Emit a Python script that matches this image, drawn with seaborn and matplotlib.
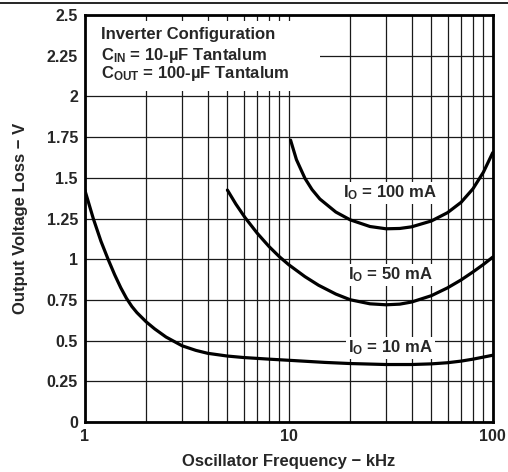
"""
Output voltage loss vs oscillator frequency, inverter configuration.
"""

import matplotlib
matplotlib.use('Agg')
import matplotlib.pyplot as plt
from matplotlib.lines import Line2D
from matplotlib.patches import Rectangle
from matplotlib.ticker import FixedLocator, NullFormatter
import pandas as pd
import seaborn as sns

# Curve values
freq_10 = [1, 1.1, 1.2, 1.3, 1.4, 1.5, 1.6, 1.7, 1.8, 2, 2.2, 2.5, 3, 3.5, 4, 5, 6, 8, 10,
           15, 20, 30, 40, 50, 60, 70, 80, 100]
loss_10 = [1.425, 1.25, 1.11, 1.0, 0.905, 0.825, 0.76, 0.71, 0.672, 0.615, 0.572, 0.522, 0.468, 0.44,
           0.422, 0.405, 0.396, 0.386, 0.379, 0.366, 0.359, 0.353, 0.353, 0.357, 0.364, 0.374, 0.386, 0.41]

freq_50 = [5, 5.5, 6.1, 7, 8, 9, 10, 12, 14, 17, 20, 25, 30, 35, 40, 50, 60, 70, 80, 90, 100]
loss_50 = [1.425, 1.339, 1.256, 1.16, 1.078, 1.015, 0.966, 0.893, 0.84, 0.786, 0.751, 0.726, 0.72,
           0.724, 0.737, 0.776, 0.824, 0.873, 0.922, 0.968, 1.013]

freq_100 = [10.2, 10.9, 12, 13, 14.2, 17, 20, 25, 30, 35, 40, 50, 60, 70, 80, 90, 100]
loss_100 = [1.732, 1.612, 1.497, 1.428, 1.37, 1.29, 1.242, 1.201, 1.187, 1.189, 1.199, 1.235, 1.286,
            1.35, 1.433, 1.535, 1.655]

curve_names = ['10 mA', '50 mA', '100 mA']
curve_labels = ['I$_O$ = 10 mA', 'I$_O$ = 50 mA', 'I$_O$ = 100 mA']
label_pos = [(31.5, 0.455), (31.3, 0.903), (31.3, 1.407)]

y_ticks = [0, 0.25, 0.5, 0.75, 1, 1.25, 1.5, 1.75, 2, 2.25, 2.5]
y_tick_labels = ['0', '0.25', '0.5', '0.75', '1', '1.25', '1.5', '1.75', '2', '2.25', '2.5']
x_ticks = [1, 10, 100]
x_tick_labels = ['1', '10', '100']
minor_ticks = [2, 3, 4, 5, 6, 7, 8, 9, 20, 30, 40, 50, 60, 70, 80, 90]

note_lines = ['Inverter Configuration', 'C$_{IN}$ = 10-µF Tantalum', 'C$_{OUT}$ = 100-µF Tantalum']
note_y = [2.353, 2.224, 2.113]

df = pd.concat([
    pd.DataFrame({'freq': freq_10, 'loss': loss_10, 'io': curve_names[0]}),
    pd.DataFrame({'freq': freq_50, 'loss': loss_50, 'io': curve_names[1]}),
    pd.DataFrame({'freq': freq_100, 'loss': loss_100, 'io': curve_names[2]}),
])

sns.set_style('white')
plt.rcParams['font.family'] = ['Liberation Sans', 'DejaVu Sans']
plt.rcParams['font.weight'] = 'bold'
plt.rcParams['mathtext.default'] = 'regular'

fig = plt.figure(figsize=(5.08, 4.72), dpi=100)
ax = fig.add_axes([0.167, 0.106, 0.803, 0.862])

sns.lineplot(data=df, x='freq', y='loss', units='io', estimator=None, sort=False,
             color='black', linewidth=2.3, ax=ax, zorder=5)

ax.set_xscale('log')
ax.set_xlim(1, 100)
ax.set_ylim(0, 2.5)

ax.xaxis.set_minor_locator(FixedLocator(minor_ticks))
ax.xaxis.set_minor_formatter(NullFormatter())
ax.set_xticks(x_ticks)
ax.set_xticklabels(x_tick_labels)
ax.set_yticks(y_ticks)
ax.set_yticklabels(y_tick_labels)
ax.grid(True, which='both', color='#1a1a1a', linewidth=0.9)
ax.tick_params(axis='x', which='both', length=0, labelsize=11.5, pad=5)
ax.tick_params(axis='y', which='both', direction='out', length=2.5, width=0.9,
               labelsize=11.5, pad=2.5)

for s in ax.spines.values():
    s.set_linewidth(2)
    s.set_color('black')
    s.set_zorder(10)

ax.set_xlabel('Oscillator Frequency − kHz', fontsize=12, fontweight='bold', labelpad=7)
ax.set_ylabel('Output Voltage Loss − V', fontsize=12, fontweight='bold', labelpad=13)

# white panel behind the configuration note (leaves short grid stubs top and bottom)
ax.add_patch(Rectangle((0.0, 2.035), 0.576, 0.43, transform=ax.get_yaxis_transform(),
                       facecolor='white', edgecolor='none', zorder=3))
for line, y in zip(note_lines, note_y):
    ax.text(0.039, y, line, transform=ax.get_yaxis_transform(),
            fontsize=12, fontweight='bold', va='baseline', zorder=6)

for lab, (x, y) in zip(curve_labels, label_pos):
    ax.text(x, y, lab, fontsize=12, fontweight='bold', ha='center', va='center', zorder=6,
            bbox=dict(facecolor='white', edgecolor='none', pad=1.5))

fig.add_artist(Line2D([0, 1], [0.993, 0.993], color='black', linewidth=1.2))

fig.savefig('out.png', dpi=100)
